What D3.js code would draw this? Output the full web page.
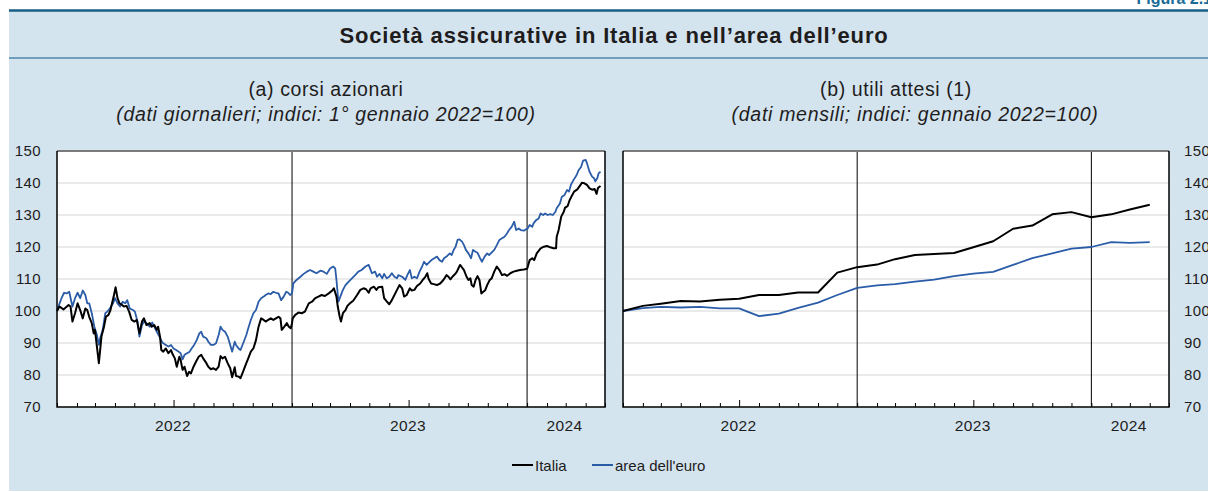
<!DOCTYPE html>
<html>
<head>
<meta charset="utf-8">
<script src="https://cdn.jsdelivr.net/npm/d3@7"></script>
<style>
  html, body { margin: 0; padding: 0; background: #ffffff; }
  svg { display: block; font-family: "Liberation Sans", Arial, Helvetica, sans-serif; }
</style>
</head>
<body>
<svg id="chart" width="1208" height="492"></svg>
<script>
// ---- data -------------------------------------------------------------
// Share prices, daily: [days since 1 Jan 2022, index (1 Jan 2022 = 100)]
const italiaDaily = [
  [0,100],[4,101.4],[10,100.5],[18,101.9],[21,101.4],[24,96.7],[28,99.3],[32,102.4],[36,100.3],[40,97.7],
  [44,100.8],[47,100.3],[50,98.2],[54,96.2],[57,93],[59,94.1],[62,88.9],[65,83.7],[67,87.8],[69,92],
  [73,95.1],[76,98.2],[80,98.8],[83,100.3],[88,104.5],[91,107.4],[94,104],[97,102.4],[101,101.9],[104,101.4],
  [108,101.6],[112,99.8],[116,97.2],[120,96.7],[124,97.2],[128,93],[132,96.7],[135,97.7],[139,95.6],[144,96.2],
  [147,95.1],[151,95.6],[155,94.1],[157,95.1],[160,92],[162,87.8],[165,87.3],[169,88.3],[173,86.8],[177,87.8],
  [180,86.3],[183,85.2],[186,82.6],[190,85.7],[192,84.7],[195,81.6],[198,82.6],[202,79.7],[205,81],[208,80.5],
  [212,82.6],[216,84.2],[220,85.7],[224,86.3],[227,85.2],[232,83.7],[235,82.6],[239,81.8],[243,82.1],[247,81.6],
  [251,82.6],[254,85.9],[257,85.2],[261,85.7],[265,83.7],[269,82.1],[272,79.3],[276,82.4],[278,79.7],[282,79.5],
  [285,79],[290,81.6],[294,83.7],[297,85.2],[301,87.3],[305,88.3],[309,90.9],[313,95.1],[317,97.7],[321,97.2],
  [324,96.7],[328,97.2],[332,97.7],[336,97.2],[340,97.7],[344,98.2],[347,97.7],[349,94.1],[353,95.1],[357,96.2],
  [360,95.1],[363,94.6],[365,96.2],[366,97.7],[370,98.8],[375,99.5],[380,99.3],[385,99.8],[391,102.4],[396,102.9],
  [401,104],[406,104.5],[411,105],[416,104.7],[422,105.5],[427,106.3],[430,107.1],[434,104.5],[436,101.4],[439,98.2],
  [441,96.7],[444,99.3],[448,100.3],[451,101.6],[455,102.4],[460,103.2],[466,105],[471,106.6],[476,107.1],[480,106.8],
  [484,105.7],[487,107.1],[492,107.6],[496,106.6],[499,107.4],[505,107.6],[508,104],[512,103],[516,102.1],[520,103.4],
  [524,105],[528,106.6],[532,108.1],[536,107.1],[539,104.5],[543,105],[548,107.1],[551,106.4],[555,106.6],[559,107.8],
  [564,108.6],[568,109.7],[572,110.7],[575,111.8],[577,110.1],[581,108.6],[585,108.4],[590,108.1],[595,108.6],[600,109.7],
  [605,111.2],[608,110.7],[611,109.9],[614,110.7],[619,111.7],[621,112.3],[624,113.6],[626,114.4],[629,113.6],[632,112.8],
  [636,110.7],[639,109.7],[642,110.2],[644,108.1],[647,107.6],[650,109.7],[653,110.9],[656,109.7],[659,105.5],[662,106],
  [665,106.5],[668,108.1],[672,109.7],[675,110.2],[679,112.3],[683,113.9],[687,112.8],[691,111.2],[695,111.5],[699,111],
  [704,111.8],[709,112.3],[714,112.6],[719,112.8],[725,113],[730,113.2],[731,113.8],[734,115.9],[738,116.5],[741,115.9],
  [745,118],[751,119.6],[756,120.1],[761,120.3],[766,119.9],[771,119.6],[775,119.6],[776,123.2],[779,125.3],[783,129.5],
  [787,131],[789,132.3],[793,132.8],[796,134.6],[800,136.2],[803,137.3],[808,138],[813,139.4],[815,140.1],[819,139.9],
  [823,139.4],[827,138.3],[831,137.9],[835,138.1],[838,136.6],[840,138.4],[844,139.1]
];
const euroDaily = [
  [0,100],[4,102.4],[7,104],[11,105.7],[15,105.5],[19,106],[22,103.2],[24,101.4],[28,104],[32,105.7],
  [36,104],[40,106.4],[44,105],[47,102.4],[50,102.4],[54,99.3],[58,95.1],[62,92.5],[65,89.4],[67,91.5],
  [71,94.1],[75,99.3],[78,99.8],[82,100.8],[87,102.4],[90,104],[94,102.4],[98,101.4],[102,102.9],[106,102.4],
  [109,103.4],[113,100.8],[118,100.3],[121,99.8],[125,96.7],[128,92],[132,95.6],[135,96.7],[139,96.2],[144,95.1],
  [148,96.4],[151,95.1],[155,93.5],[159,92],[163,90.4],[165,89.9],[169,89.4],[173,88.9],[177,89.4],[181,88.3],
  [185,87.8],[189,87.3],[192,86.8],[195,84.9],[198,86.3],[202,86.8],[206,87.3],[209,88.3],[213,89.4],[217,90.9],
  [221,93],[224,93.5],[227,92],[232,91.5],[235,90.4],[239,89.4],[243,89.4],[247,89.9],[251,92.5],[254,95.1],
  [257,94.1],[261,93.5],[265,92],[269,89.4],[272,87.3],[276,90.4],[278,89.4],[282,88.3],[285,87.8],[290,90.4],
  [294,92.5],[297,94.6],[301,97.2],[305,99.3],[309,100.3],[313,102.9],[317,104],[321,104.5],[324,105],[328,105.5],
  [332,105.3],[336,106],[340,105.7],[344,105.5],[348,103.4],[352,104.5],[356,106],[359,105.7],[362,105],[365,105.5],
  [367,108.6],[372,109.7],[378,110.7],[383,111.6],[388,112.3],[393,112.8],[398,112.3],[403,111.8],[409,112.6],[414,112.3],
  [419,111.6],[424,113.3],[429,113.9],[432,113.3],[434,109.7],[437,102.9],[440,104.5],[444,106.6],[448,108.1],[453,109.2],
  [458,110.2],[463,111.2],[468,112.3],[473,112.8],[479,113.9],[484,114.4],[486,113.4],[489,111.8],[494,112.3],[497,110.7],
  [501,111.6],[505,110.2],[508,111.6],[512,110.2],[516,110.7],[520,111.8],[524,110.7],[528,110.2],[530,111.2],[536,110.7],
  [541,109.7],[544,111.2],[548,112.8],[551,110.2],[555,110.7],[559,110.2],[563,112.3],[567,113.9],[570,115.4],[574,114.4],
  [579,115.4],[582,116],[586,116.5],[590,117],[594,115.9],[598,115.4],[601,116.5],[606,117.2],[610,118],[613,117.5],
  [616,119.1],[619,120.1],[622,122.2],[625,122.4],[629,121.7],[632,120.6],[635,119.1],[639,118],[643,116.5],[646,119.1],
  [650,118.5],[653,118.2],[657,116.5],[660,115.4],[664,117],[668,118],[671,117.5],[676,118.5],[679,119.1],[683,120.6],
  [687,122.2],[691,122.7],[695,123.2],[699,124.3],[702,125.3],[706,126.3],[710,127.9],[713,125.3],[717,125.8],[720,125.3],
  [725,125.1],[728,125.5],[731,125.8],[734,126.9],[738,126.3],[740,127.4],[744,128.4],[748,128.9],[751,130.5],[755,130],
  [758,130.5],[762,130],[766,130.3],[770,130],[774,131],[776,132.1],[781,133.6],[784,135.7],[788,136.2],[792,137.8],
  [795,137.3],[798,139.4],[802,140.9],[807,142.5],[810,144],[814,145.1],[817,147],[821,147.2],[823,146.2],[827,143.5],
  [831,142],[834,141.5],[836,140.5],[839,141.5],[841,143],[844,143.5]
];

// Expected earnings, monthly from January 2022 to April 2024 (January 2022 = 100)
const monthlyStart = "2022-01-01";
const italiaMonthly = [100,101.6,102.3,103.1,103,103.5,103.8,105,105,105.8,105.8,112,
                       113.7,114.5,116.2,117.5,117.8,118.1,119.9,121.8,125.7,126.7,130.2,130.9,
                       129.3,130.2,131.7,133.2];
const euroMonthly   = [100,100.9,101.3,101.1,101.3,100.8,100.8,98.4,99.2,101,102.6,105,
                       107.2,108,108.4,109.2,109.8,110.9,111.7,112.2,114.4,116.5,118,119.5,
                       120,121.5,121.3,121.5];

const yTicks = [70, 80, 90, 100, 110, 120, 130, 140, 150];
const years = [2022, 2023, 2024];
const seriesNames = ["Italia", "area dell'euro"];
const seriesColors = ["#000000", "#2a5ca8"];

// ---- layout -----------------------------------------------------------
const svg = d3.select("#chart");
const W = 1208, H = 492;
const bg = "#d3e4ee";
const textColor = "#1f1c1d";

svg.append("rect").attr("width", W).attr("height", H).attr("fill", "#ffffff");

// figure number, partly above the frame
svg.append("text")
  .attr("x", 1212).attr("y", 4)
  .attr("text-anchor", "end")
  .attr("font-size", 16).attr("font-weight", "bold")
  .attr("fill", "#1a6b96")
  .text("Figura 2.1");

svg.append("rect").attr("x", 9).attr("y", 11).attr("width", W - 9).attr("height", 480).attr("fill", bg);
svg.append("line").attr("x1", 9).attr("x2", W).attr("y1", 10.5).attr("y2", 10.5)
  .attr("stroke", "#175f86").attr("stroke-width", 2.5);
svg.append("line").attr("x1", 9).attr("x2", W).attr("y1", 58).attr("y2", 58)
  .attr("stroke", "#4c87aa").attr("stroke-width", 1.5);

svg.append("text")
  .attr("x", 614).attr("y", 42.5)
  .attr("text-anchor", "middle")
  .attr("font-size", 22).attr("font-weight", "bold")
  .attr("letter-spacing", 0.85)
  .attr("fill", textColor)
  .text("Società assicurative in Italia e nell’area dell’euro");

const t0 = new Date(Date.UTC(2022, 0, 1));
const t1 = new Date(Date.UTC(2024, 4, 1));
const plotTop = 151, plotBottom = 407;

const panels = [
  { x0: 57, x1: 605, title: "(a) corsi azionari", titleX: 326, subX: 326,
    sub: "(dati giornalieri; indici: 1° gennaio 2022=100)", axis: "left",
    series: [italiaDaily, euroDaily].map(s => s.map(([d, v]) => [d3.utcDay.offset(t0, d), v])) },
  { x0: 623, x1: 1169, title: "(b) utili attesi (1)", titleX: 896, subX: 915,
    sub: "(dati mensili; indici: gennaio 2022=100)", axis: "right",
    series: [italiaMonthly, euroMonthly].map(s => s.map((v, i) =>
      [d3.utcMonth.offset(new Date(monthlyStart + "T00:00:00Z"), i), v])) }
];

panels.forEach(p => {
  const x = d3.scaleUtc().domain([t0, t1]).range([p.x0, p.x1]);
  const y = d3.scaleLinear().domain([70, 150]).range([plotBottom, plotTop]);
  const g = svg.append("g");

  g.append("text").attr("x", p.titleX).attr("y", 96)
    .attr("text-anchor", "middle").attr("font-size", 19.5).attr("letter-spacing", 0.6)
    .attr("fill", textColor).text(p.title);
  g.append("text").attr("x", p.subX).attr("y", 121)
    .attr("text-anchor", "middle").attr("font-size", 19.5).attr("letter-spacing", 0.7)
    .attr("font-style", "italic")
    .attr("fill", textColor).text(p.sub);

  g.append("rect").attr("x", p.x0).attr("y", plotTop)
    .attr("width", p.x1 - p.x0).attr("height", plotBottom - plotTop).attr("fill", "#ffffff");

  // horizontal grid
  g.append("g").selectAll("line").data(yTicks.slice(1, -1)).join("line")
    .attr("x1", p.x0).attr("x2", p.x1)
    .attr("y1", d => y(d)).attr("y2", d => y(d))
    .attr("stroke", "#d6d6d6").attr("stroke-width", 1);

  // value axis labels
  const yAxis = (p.axis === "left" ? d3.axisLeft(y) : d3.axisRight(y))
    .tickValues(yTicks).tickSize(0).tickPadding(0);
  const ya = g.append("g")
    .attr("transform", `translate(${p.axis === "left" ? 41 : 1184},0)`)
    .call(yAxis);
  ya.select(".domain").remove();
  ya.selectAll("text").attr("font-size", 15).attr("letter-spacing", 0.4)
    .attr("fill", textColor).attr("font-family", "Liberation Sans, Arial, sans-serif");

  // month ticks on the time axis, pointing into the plot
  const xa = g.append("g").attr("transform", `translate(0,${plotBottom})`)
    .call(d3.axisBottom(x).ticks(d3.utcMonth.every(1)).tickSize(-4).tickFormat(""));
  xa.select(".domain").remove();
  xa.selectAll(".tick line").attr("stroke", "#000").attr("stroke-width", 1)
    .filter(d => d.getUTCMonth() === 6).attr("y2", -7);

  // year separators
  g.append("g").selectAll("line").data(years.slice(1)).join("line")
    .attr("x1", d => x(new Date(Date.UTC(d, 0, 1)))).attr("x2", d => x(new Date(Date.UTC(d, 0, 1))))
    .attr("y1", plotTop).attr("y2", plotBottom)
    .attr("stroke", "#000").attr("stroke-width", 1);

  // year labels centred on each visible year
  g.append("g").selectAll("text").data(years).join("text")
    .attr("x", d => {
      const a = x(new Date(Date.UTC(d, 0, 1)));
      const b = Math.min(x(new Date(Date.UTC(d + 1, 0, 1))), p.x1);
      return (a + b) / 2 - 1.5;
    })
    .attr("y", 431).attr("text-anchor", "middle")
    .attr("font-size", 15.5).attr("letter-spacing", 0.4)
    .attr("fill", textColor).text(d => d);

  // series (euro area first, Italy on top)
  const line = d3.line().x(d => x(d[0])).y(d => y(d[1]));
  [1, 0].forEach(i => {
    g.append("path").datum(p.series[i])
      .attr("d", line).attr("fill", "none")
      .attr("stroke", seriesColors[i])
      .attr("stroke-width", i === 0 ? 2 : 1.8)
      .attr("stroke-linejoin", "round");
  });

  // frame
  g.append("line").attr("x1", p.x0).attr("x2", p.x1).attr("y1", plotTop).attr("y2", plotTop)
    .attr("stroke", "#7a7a7a").attr("stroke-width", 2);
  g.append("path")
    .attr("d", `M${p.x0},${plotTop}V${plotBottom}H${p.x1}V${plotTop}`)
    .attr("fill", "none").attr("stroke", "#000").attr("stroke-width", 1.5);
});

// legend
const legend = svg.append("g").attr("transform", "translate(0,465)");
const legendX = [512, 592];
seriesNames.forEach((name, i) => {
  legend.append("line").attr("x1", legendX[i]).attr("x2", legendX[i] + 21)
    .attr("y1", 0).attr("y2", 0)
    .attr("stroke", seriesColors[i]).attr("stroke-width", 2);
  legend.append("text").attr("x", legendX[i] + 23).attr("y", 5.5)
    .attr("font-size", 15).attr("fill", textColor).text(name);
});
</script>
</body>
</html>
